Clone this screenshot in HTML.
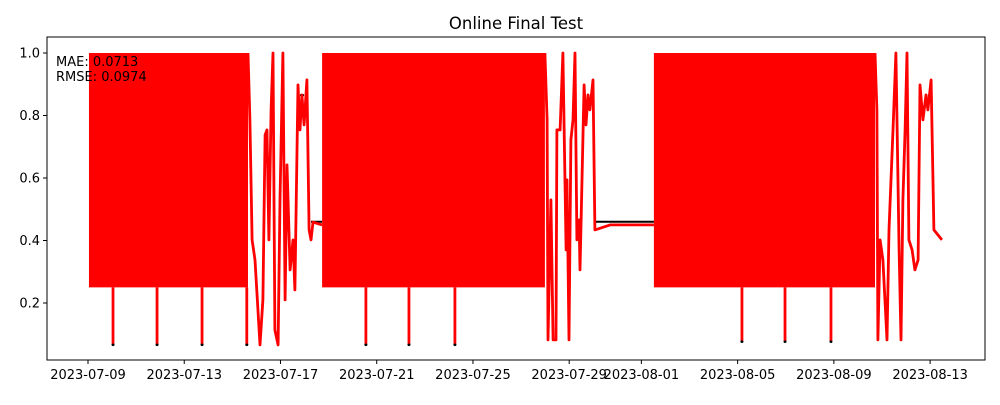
<!DOCTYPE html>
<html><head><meta charset="utf-8"><style>
body{margin:0;background:#fff;}
svg text{font-family:"DejaVu Sans","Liberation Sans",sans-serif;fill:#000;}
</style></head><body>
<svg id="chart" width="1000" height="400">
<rect width="1000" height="400" fill="#fff"/>
<text x="516" y="29" font-size="16.5" text-anchor="middle">Online Final Test</text>
<g id="plot"></g>
</svg>
<script>
const xTickDays=[0,4,8,12,16,20,23,27,31,35];
const xTickLabels=["2023-07-09","2023-07-13","2023-07-17","2023-07-21","2023-07-25","2023-07-29","2023-08-01","2023-08-05","2023-08-09","2023-08-13"];
const yTicks=[0.2,0.4,0.6,0.8,1.0];
const yTickLabels=["0.2","0.4","0.6","0.8","1.0"];
const bandStart=[0.04,9.73,23.52];
const bandEnd=[6.65,18.99,32.71];
const bandLow=[0.25,0.25,0.25];
const bandHigh=[1.0,1.0,1.0];
const spikeDays=[1.04,2.87,4.74,6.6,11.55,13.34,15.25,27.18,28.97,30.88];
const spikeLow=[0.07,0.07,0.07,0.07,0.07,0.07,0.07,0.08,0.08,0.08];
const lineDays=[6.65,6.73,6.82,6.94,7.15,7.27,7.36,7.44,7.52,7.61,7.69,7.77,7.90,7.98,8.10,8.19,8.27,8.40,8.52,8.60,8.73,8.81,8.89,8.98,9.10,9.19,9.27,9.35,9.73,null,
18.99,19.08,19.12,19.24,19.33,19.45,19.49,19.62,19.74,19.87,19.91,19.99,20.07,20.16,20.24,20.32,20.41,20.45,20.62,20.70,20.78,20.86,20.99,21.07,21.70,23.52,null,
32.71,32.79,32.83,32.92,33.04,33.21,33.29,33.46,33.58,33.71,33.79,33.87,33.96,34.04,34.12,34.25,34.37,34.50,34.58,34.70,34.83,34.91,35.04,35.16,35.49];
const lineValues=[1.0,0.786,0.402,0.338,0.066,0.21,0.738,0.754,0.402,0.818,1.0,0.114,0.066,0.53,1.0,0.21,0.642,0.306,0.402,0.242,0.898,0.754,0.866,0.77,0.914,0.434,0.402,0.459,0.45,null,
1.0,0.786,0.082,0.53,0.082,0.082,0.754,0.754,1.0,0.37,0.594,0.082,0.722,0.786,1.0,0.402,0.466,0.306,0.898,0.77,0.866,0.818,0.914,0.434,0.45,0.45,null,
1.0,0.818,0.082,0.402,0.338,0.082,0.434,0.754,1.0,0.37,0.082,0.53,0.754,1.0,0.402,0.37,0.306,0.338,0.898,0.786,0.866,0.818,0.914,0.434,0.402];
const flatStart=[9.27,21.07,8.81,20.86,34.91];
const flatEnd=[9.73,23.52,8.98,20.99,35.04];
const flatValue=[0.46,0.46,0.865,0.865,0.865];

const L=47,R=985,T=37,B=360;
const X=d=>88+d*24.06;
const Y=v=>303-(v-0.2)*312.5;
const NS="http://www.w3.org/2000/svg";
const plot=document.getElementById('plot');
function mk(tag,attrs,parent){const e=document.createElementNS(NS,tag);for(const k in attrs)e.setAttribute(k,attrs[k]);(parent||plot).appendChild(e);return e;}

const gb=mk('g',{});


for(let i=0;i<flatStart.length;i++){
  const l=mk('line',{x1:X(flatStart[i]),x2:X(flatEnd[i]),y1:Y(flatValue[i]),y2:Y(flatValue[i]),stroke:'#000','stroke-width':2},gb);
  
  
}
for(let i=0;i<spikeDays.length;i++){
  const c=mk('circle',{cx:X(spikeDays[i]),cy:Y(spikeLow[i])+1,r:1.5,fill:'#000'},gb);
  
  
}

const gr=mk('g',{});


for(let i=0;i<bandStart.length;i++){
  const r=mk('rect',{x:X(bandStart[i]),y:Y(bandHigh[i]),width:X(bandEnd[i])-X(bandStart[i]),height:Y(bandLow[i])-Y(bandHigh[i]),fill:'#ff0000'},gr);
  
  
}
for(let i=0;i<spikeDays.length;i++){
  const l=mk('line',{x1:X(spikeDays[i]),x2:X(spikeDays[i]),y1:Y(0.25),y2:Y(spikeLow[i]),stroke:'#ff0000','stroke-width':2.8},gr);
  
  
}
let d='',pen=false;
for(let i=0;i<lineDays.length;i++){
  if(lineDays[i]===null){pen=false;continue;}
  d+=(pen?'L':'M')+X(lineDays[i]).toFixed(1)+','+Y(lineValues[i]).toFixed(1);pen=true;
}
const p=mk('path',{d:d,fill:'none',stroke:'#ff0000','stroke-width':2.8,'stroke-linejoin':'round'},gr);



const fr=mk('rect',{x:L,y:T,width:R-L,height:B-T,fill:'none',stroke:'#000','stroke-width':1});



for(let i=0;i<xTickDays.length;i++){
  const x=X(xTickDays[i]);
  const t=mk('line',{x1:x,x2:x,y1:B,y2:B+4,stroke:'#000'});
  
  
  const tx=mk('text',{x:x,y:B+19,'font-size':13,'text-anchor':'middle'});
  tx.textContent=xTickLabels[i];
  
  
}
for(let i=0;i<yTicks.length;i++){
  const y=Y(yTicks[i]);
  const t=mk('line',{x1:L-4,x2:L,y1:y,y2:y,stroke:'#000'});
  
  
  const tx=mk('text',{x:L-7,y:y+4.5,'font-size':13,'text-anchor':'end'});
  tx.textContent=yTickLabels[i];
  
  
}
const m1=mk('text',{x:56,y:66,'font-size':13});
m1.textContent='MAE: 0.0713';


const m2=mk('text',{x:56,y:81,'font-size':13});
m2.textContent='RMSE: 0.0974';


</script>
</body></html>
